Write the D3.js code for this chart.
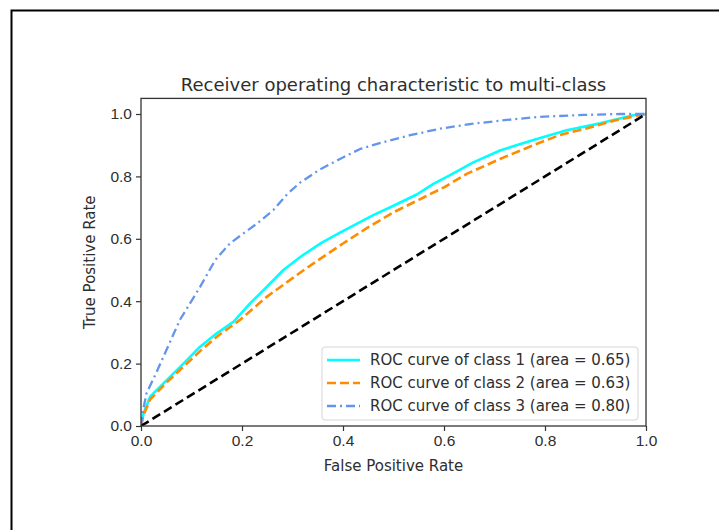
<!DOCTYPE html>
<html>
<head>
<meta charset="utf-8">
<script src="https://cdn.jsdelivr.net/npm/d3@7"></script>
<style>
    body { margin: 0; background: #fff; }
    svg { display: block; font-family: "DejaVu Sans", sans-serif; }
    .axis text { font-size: 15.5px; fill: #2e2e2e; }
    .axis line { stroke: #333; stroke-width: 1.2; }
</style>
</head>
<body>
<div id="chart"></div>
<script>
// ROC curves
let fpr1 = [0, 0.005, 0.018, 0.051, 0.084, 0.117, 0.15, 0.183, 0.216, 0.249, 0.282, 0.318, 0.358, 0.394, 0.427, 0.46, 0.5, 0.546, 0.579, 0.612, 0.658, 0.711, 0.777, 0.843, 0.909, 0.975, 1];
let tpr1 = [0, 0.04, 0.094, 0.147, 0.2, 0.254, 0.297, 0.334, 0.393, 0.446, 0.5, 0.545, 0.588, 0.62, 0.648, 0.676, 0.706, 0.742, 0.776, 0.804, 0.845, 0.883, 0.917, 0.948, 0.97, 0.996, 1];

let fpr2 = [0, 0.005, 0.018, 0.051, 0.084, 0.117, 0.15, 0.196, 0.249, 0.295, 0.328, 0.354, 0.4, 0.447, 0.5, 0.55, 0.6, 0.645, 0.711, 0.777, 0.83, 0.883, 0.942, 1];
let tpr2 = [0, 0.035, 0.085, 0.14, 0.19, 0.24, 0.286, 0.34, 0.414, 0.468, 0.506, 0.535, 0.585, 0.634, 0.685, 0.725, 0.765, 0.808, 0.856, 0.9, 0.933, 0.954, 0.981, 1];

let fpr3 = [0, 0.004, 0.011, 0.03, 0.0475, 0.077, 0.117, 0.147, 0.176, 0.2, 0.229, 0.262, 0.29, 0.315, 0.354, 0.394, 0.434, 0.48, 0.533, 0.592, 0.658, 0.724, 0.79, 0.876, 0.949, 1];
let tpr3 = [0, 0.05, 0.105, 0.17, 0.233, 0.34, 0.446, 0.532, 0.585, 0.614, 0.648, 0.692, 0.744, 0.78, 0.822, 0.856, 0.888, 0.91, 0.932, 0.953, 0.969, 0.981, 0.991, 0.997, 1, 1];

let chance = [0, 1];
let legendLabels = ['ROC curve of class 1 (area = 0.65)', 'ROC curve of class 2 (area = 0.63)', 'ROC curve of class 3 (area = 0.80)'];
let xTicks = [0, 0.2, 0.4, 0.6, 0.8, 1.0];
let yTicks = [0, 0.2, 0.4, 0.6, 0.8, 1.0];

(function() {
    let W = 719, H = 530;
    let left = 141, right = 646, top = 98.4, bottom = 426;

    let svg = d3.select('#chart')
        .append('svg')
        .attr('width', W)
        .attr('height', H);

    // page frame (only top and left edges visible)
    svg.append('path')
        .attr('d', `M11.5,${H + 5} L11.5,10.5 L${W + 5},10.5`)
        .attr('fill', 'none')
        .attr('stroke', '#000')
        .attr('stroke-width', 2);

    let x = d3.scaleLinear().domain([0, 1]).range([left, right]);
    let y = d3.scaleLinear().domain([0, 1.05]).range([bottom, top]);

    svg.append('defs').append('clipPath')
        .attr('id', 'plot')
        .append('rect')
        .attr('x', left).attr('y', top)
        .attr('width', right - left).attr('height', bottom - top);

    let series = [
        { fpr: fpr1, tpr: tpr1, color: 'aqua', dash: null, width: 2.6 },
        { fpr: fpr2, tpr: tpr2, color: 'darkorange', dash: '9,4', width: 2.6 },
        { fpr: fpr3, tpr: tpr3, color: 'cornflowerblue', dash: '9,4,2,4', width: 2.3 },
        { fpr: chance, tpr: chance, color: '#000', dash: '9,4.5', width: 2.6 }
    ];

    let line = d3.line()
        .x(d => x(d[0]))
        .y(d => y(d[1]));

    svg.append('g')
        .attr('clip-path', 'url(#plot)')
        .selectAll('.roc')
        .data(series)
        .enter()
        .append('path')
        .attr('class', 'roc')
        .attr('d', s => line(d3.zip(s.fpr, s.tpr)))
        .attr('fill', 'none')
        .attr('stroke', s => s.color)
        .attr('stroke-width', s => s.width)
        .attr('stroke-dasharray', s => s.dash)
        .attr('stroke-linejoin', 'round');

    let fmt = d3.format('.1f');
    let xAxis = svg.append('g')
        .attr('class', 'axis')
        .attr('transform', `translate(0,${bottom})`)
        .call(d3.axisBottom(x).tickValues(xTicks).tickFormat(fmt).tickSizeInner(5).tickSizeOuter(0).tickPadding(4));
    let yAxis = svg.append('g')
        .attr('class', 'axis')
        .attr('transform', `translate(${left},0)`)
        .call(d3.axisLeft(y).tickValues(yTicks).tickFormat(fmt).tickSizeInner(5).tickSizeOuter(0).tickPadding(4));
    xAxis.select('.domain').remove();
    yAxis.select('.domain').remove();
    svg.selectAll('.axis text').attr('font-family', null);

    // spines
    svg.append('rect')
        .attr('x', left).attr('y', top)
        .attr('width', right - left).attr('height', bottom - top)
        .attr('fill', 'none')
        .attr('stroke', '#333')
        .attr('stroke-width', 1.3);

    svg.append('text')
        .attr('x', (left + right) / 2)
        .attr('y', 90.5)
        .attr('text-anchor', 'middle')
        .style('font-size', '18px')
        .style('fill', '#2e2e2e')
        .text('Receiver operating characteristic to multi-class');

    svg.append('text')
        .attr('x', (left + right) / 2)
        .attr('y', 471)
        .attr('text-anchor', 'middle')
        .style('font-size', '15px')
        .style('fill', '#2e2e2e')
        .text('False Positive Rate');

    svg.append('text')
        .attr('transform', `translate(95,${(top + bottom) / 2}) rotate(-90)`)
        .attr('text-anchor', 'middle')
        .style('font-size', '15px')
        .style('fill', '#2e2e2e')
        .text('True Positive Rate');

    // legend
    let legend = svg.append('g');
    legend.append('rect')
        .attr('x', 322).attr('y', 347)
        .attr('width', 316).attr('height', 73)
        .attr('rx', 3)
        .attr('fill', '#fff')
        .attr('fill-opacity', 0.85)
        .attr('stroke', '#d6d6d6');

    let rows = legend.selectAll('.entry')
        .data(series.slice(0, 3))
        .enter()
        .append('g')
        .attr('class', 'entry')
        .attr('transform', (d, i) => `translate(0,${360 + i * 23})`);
    rows.append('line')
        .attr('x1', 327).attr('x2', 360)
        .attr('stroke', s => s.color)
        .attr('stroke-width', s => s.width)
        .attr('stroke-dasharray', s => s.dash);
    rows.append('text')
        .attr('x', 370)
        .attr('dy', '0.35em')
        .style('font-size', '15px')
        .style('fill', '#2e2e2e')
        .text((d, i) => legendLabels[i]);
})();
</script>
</body>
</html>
